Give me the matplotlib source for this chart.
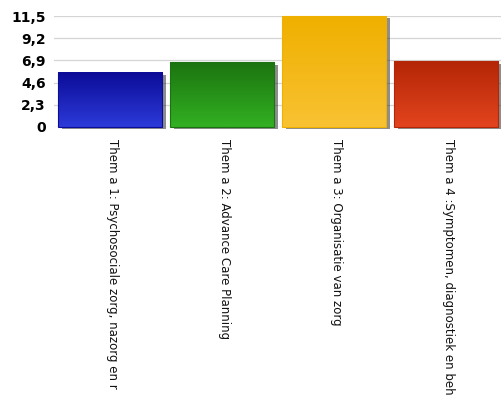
import numpy as np
import matplotlib
matplotlib.use('Agg')
import matplotlib.pyplot as plt
from matplotlib.colors import LinearSegmentedColormap

# data
categories = ['Them a 1: Psychosociale zorg, nazorg en r',
              'Them a 2: Advance Care Planning',
              'Them a 3: Organisatie van zorg',
              'Them a 4 :Symptomen, diagnostiek en beh']
values = [5.6, 6.7, 11.5, 6.8]
ticks = [0, 2.3, 4.6, 6.9, 9.2, 11.5]
tick_labels = ['0', '2,3', '4,6', '6,9', '9,2', '11,5']
# (top colour, bottom colour) per bar
bar_colors = [('#0c0c98', '#2c3ad8'),
              ('#1c7410', '#32b022'),
              ('#f0b000', '#f8c232'),
              ('#b42606', '#e2441e')]

fig = plt.figure(figsize=(5.02, 4.01), dpi=100)
ax = fig.add_axes([54/502, 1-127/401, 448/502, 111/401])

width = 0.93

for i, (v, (ctop, cbot)) in enumerate(zip(values, bar_colors)):
    x0 = i - width/2
    # shadow
    ax.bar(i + 0.035, v, width=width, bottom=-0.25, color='#303030',
           alpha=0.55, zorder=2, clip_on=False)
    # gradient body
    cmap = LinearSegmentedColormap.from_list('g%d' % i, [cbot, ctop])
    grad = np.linspace(0, 1, 64).reshape(-1, 1)
    ax.imshow(grad, cmap=cmap, origin='lower', aspect='auto',
              extent=(x0, x0 + width, 0, v), zorder=3, interpolation='bilinear',
              clip_on=False)
    ax.bar(i, v, width=width, color='none', edgecolor=ctop, linewidth=0.8,
           zorder=4, clip_on=False)

ax.set_xlim(-0.5, len(values) - 0.5)
ax.set_ylim(0, 11.5)

ax.set_yticks(ticks)
ax.set_yticklabels(tick_labels, fontweight='bold', fontsize=10)
ax.yaxis.grid(True, color='#d4d4d4', linewidth=0.9, zorder=0)
ax.set_axisbelow(True)
ax.tick_params(axis='y', length=0, pad=6)
for s in ax.spines.values():
    s.set_visible(False)

ax.set_xticks(range(len(values)))
ax.set_xticklabels([])
ax.tick_params(axis='x', length=0)
for i, lab in enumerate(categories):
    ax.text(i + 0.02, -1.25, lab, rotation=270, ha='center', va='top',
            fontsize=8.5, color='#111111', family='DejaVu Sans')

fig.savefig('out.png', dpi=100)
